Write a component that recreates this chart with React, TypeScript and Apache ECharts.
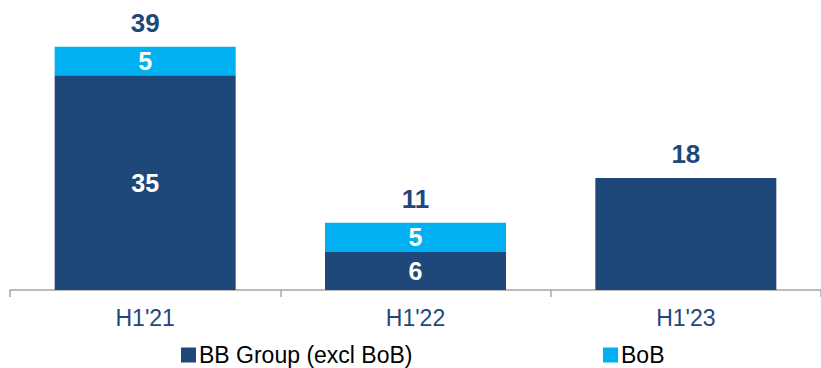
import React, { useEffect, useRef } from "react";
import * as echarts from "echarts";

const categories = ["H1'21", "H1'22", "H1'23"];
const bbGroup = [34.5, 6.1, 18.0];
const bob = [4.6, 4.7, 0];
const totals = bbGroup.map((v, i) => v + bob[i]);

const DARK = "#1F487A";
const LIGHT = "#00B0F0";
const FONT = "'Liberation Sans', Arial, sans-serif";

export default function App() {
  const ref = useRef<HTMLDivElement>(null);
  useEffect(() => {
    if (!ref.current) return;
    const chart = echarts.init(ref.current, undefined, { renderer: "svg" });
    const inner = (p: any) => (p.value > 0 ? String(Math.round(p.value)) : "");
    const legendText = { fontSize: 23, lineHeight: 24, color: "#000", fontFamily: FONT, padding: [0, 0, 0, -2] };
    chart.setOption({
      animation: false,
      textStyle: { fontFamily: FONT },
      grid: { left: 10, width: 814, top: 0, height: 290, containLabel: false },
      legend: [
        {
          left: 181,
          top: 343,
          padding: 0,
          data: ["BB Group (excl BoB)"],
          icon: "rect",
          itemWidth: 15,
          itemHeight: 15,
          textStyle: legendText,
        },
        {
          left: 603,
          top: 343,
          padding: 0,
          data: ["BoB"],
          icon: "rect",
          itemWidth: 15,
          itemHeight: 15,
          textStyle: legendText,
        },
      ],
      xAxis: {
        type: "category",
        data: categories,
        axisLine: { lineStyle: { color: "#A6A6A6", width: 1.5 } },
        axisTick: { show: true, length: 7, lineStyle: { color: "#A6A6A6", width: 1.5 } },
        axisLabel: { fontSize: 23, color: "#1F487A", fontFamily: FONT, margin: 16 },
      },
      yAxis: {
        type: "value",
        min: 0,
        max: 46.6,
        show: false,
        splitLine: { show: false },
      },
      series: [
        {
          name: "BB Group (excl BoB)",
          type: "bar",
          stack: "s",
          barWidth: 181,
          data: bbGroup.map((v, i) => ({
            value: v,
            label: { show: bob[i] > 0 },
          })),
          itemStyle: { color: DARK },
          label: {
            show: true,
            position: "inside",
            formatter: inner,
            color: "#fff",
            fontSize: 25,
            fontWeight: "bold",
            fontFamily: FONT,
          },
        },
        {
          name: "BoB",
          type: "bar",
          stack: "s",
          barWidth: 181,
          data: bob,
          itemStyle: { color: LIGHT },
          label: {
            show: true,
            position: "inside",
            formatter: inner,
            color: "#fff",
            fontSize: 25,
            fontWeight: "bold",
            fontFamily: FONT,
          },
        },
        {
          name: "Total",
          type: "bar",
          stack: "s",
          barWidth: 181,
          data: totals.map(() => 0),
          itemStyle: { color: "transparent" },
          label: {
            show: true,
            position: "top",
            distance: 11,
            formatter: (p: any) => String(Math.round(totals[p.dataIndex])),
            color: "#1F487A",
            fontSize: 26,
            fontWeight: "bold",
            fontFamily: FONT,
          },
        },
      ],
    });
    return () => chart.dispose();
  }, []);
  return (
    <div
      ref={ref}
      style={{ position: "absolute", left: 0, top: 0, width: 821, height: 368, background: "#fff" }}
    />
  );
}
